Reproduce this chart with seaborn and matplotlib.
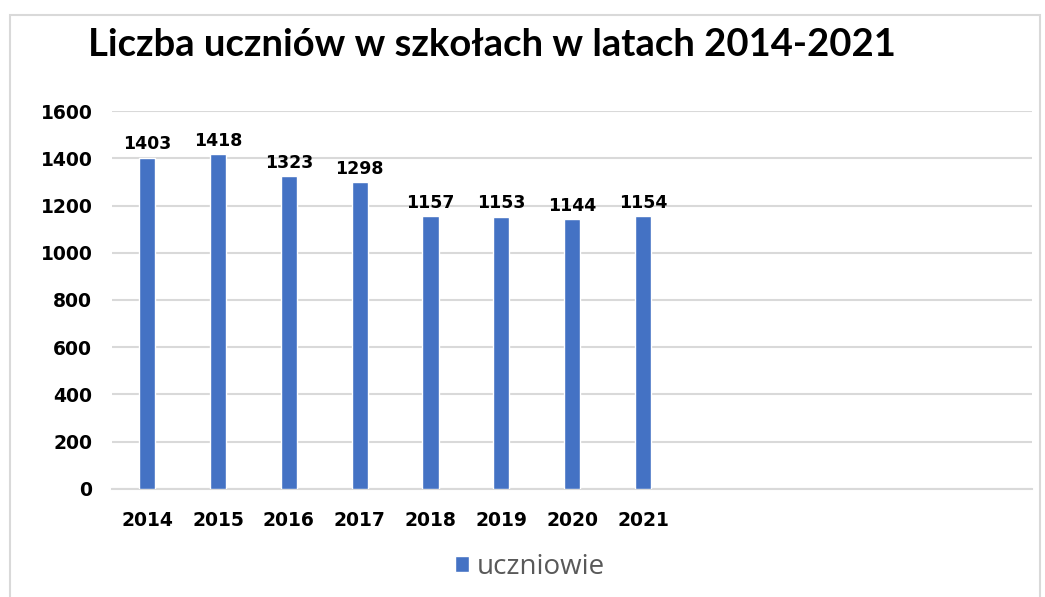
import matplotlib
matplotlib.use("Agg")
import matplotlib.pyplot as plt
from matplotlib.patches import Rectangle, Patch
import pandas as pd
import seaborn as sns

years = ["2014", "2015", "2016", "2017", "2018", "2019", "2020", "2021"]
students = [1403, 1418, 1323, 1298, 1157, 1153, 1144, 1154]
y_ticks = [0, 200, 400, 600, 800, 1000, 1200, 1400, 1600]
title = "Liczba uczniów w szkołach w latach 2014-2021"
series_name = "uczniowie"

BLUE = "#4472C4"
GRID = "#D9D9D9"


def main() -> None:
    df = pd.DataFrame({"rok": years, "liczba": students})

    sns.set_style("white")
    plt.rcParams["font.family"] = ["DejaVu Sans"]

    fig = plt.figure(figsize=(10.45, 5.97), dpi=100)
    ax = fig.add_axes([0.107, 0.181, 0.881, 0.633])

    sns.barplot(data=df, x="rok", y="liczba", color=BLUE, width=0.23,
                saturation=1, ax=ax, zorder=3)

    # the original chart reserves room for 13 categories
    ax.set_xlim(-0.5, 12.5)
    ax.set_ylim(0, 1600)
    ax.set_yticks(y_ticks)
    ax.set_yticklabels([str(t) for t in y_ticks], fontsize=13.5, fontweight="bold",
                       color="black")
    ax.set_xticks(range(len(years)))
    ax.set_xticklabels(years, fontsize=13.5, fontweight="bold", color="black")
    ax.tick_params(axis="both", length=0)
    ax.tick_params(axis="x", pad=16)
    ax.tick_params(axis="y", pad=14)
    ax.set_xlabel("")
    ax.set_ylabel("")

    ax.yaxis.grid(True, color=GRID, linewidth=1.5, zorder=0)
    for side in ["top", "right", "left"]:
        ax.spines[side].set_visible(False)
    ax.spines["bottom"].set_color(GRID)
    ax.spines["bottom"].set_linewidth(1.5)

    for container in ax.containers:
        ax.bar_label(container, fmt="%d", padding=3, fontsize=12.5,
                     fontweight="bold", color="black")

    fig.text(0.084, 0.925, title, fontsize=27.5, fontweight="bold", color="black",
             family=["Lato", "DejaVu Sans"], va="center", ha="left")

    fig.legend(handles=[Patch(facecolor=BLUE, label=series_name)],
               loc="center", bbox_to_anchor=(0.507, 0.05), frameon=False,
               prop={"family": ["Open Sans", "DejaVu Sans"], "size": 20},
               labelcolor="#595959", handlelength=0.5, handleheight=0.5,
               handletextpad=0.3)

    fig.patches.append(Rectangle((10 / 1045, -0.01), 1030 / 1045, 1 - 15 / 597 + 0.01,
                                 transform=fig.transFigure, fill=False,
                                 edgecolor=GRID, linewidth=1.5))

    fig.savefig("out.png", dpi=100)


if __name__ == "__main__":
    main()
